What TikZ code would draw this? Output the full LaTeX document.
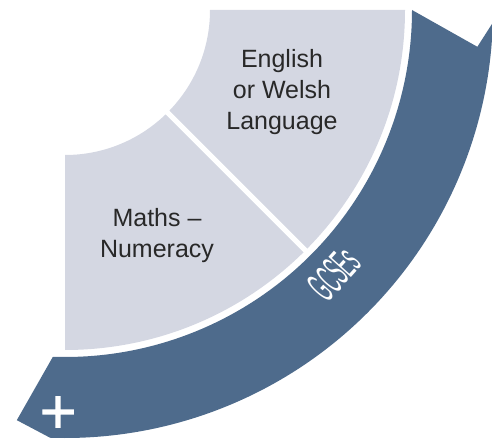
\documentclass[tikz,border=0pt]{standalone}
\usepackage{fontspec}
\setmainfont{Liberation Sans}
\newfontfamily\plusfont[FakeBold=3]{DejaVu Sans}
\definecolor{bande}{RGB}{78,107,140}
\definecolor{matiere}{RGB}{212,215,226}
\definecolor{texte}{RGB}{40,40,40}

\begin{document}
\begin{tikzpicture}[x=1pt,y=1pt,
	matlabel/.style={text=texte,align=center,font=\fontsize{25}{31}\selectfont},
	bandlabel/.style={text=white,inner sep=0pt}]
	\useasboundingbox (-65,10) rectangle (427,-433);
	\clip (-65,10) rectangle (427,-433);
	\fill[matiere] (0:145) -- (0:340) arc[start angle=0,end angle=-90,radius=340] -- (-90:145) arc[start angle=-90,end angle=0,radius=145] -- cycle; % les deux matieres
	\draw[white,line width=5] (-45:140) -- (-45:345); % separation
	\fill[bande] (0:347) -- (-5.1:414) -- (-1.7:428) arc[start angle=-1.7,end angle=-92,radius=428] -- (-96.7:413) -- (-92:347) arc[start angle=-92,end angle=0,radius=347] -- cycle; % la bande
	\node[matlabel] (english) at (217,-82) {English\\or Welsh\\Language};
	\node[matlabel] (maths) at (92,-226) {Maths –\\Numeracy};
	\node[bandlabel,rotate=48,font=\fontsize{44}{44}\selectfont] (gcse) at (-44.4:377) {\scalebox{0.36}[1]{GCSEs}};
	\node[bandlabel,font=\plusfont\fontsize{48}{48}\selectfont] (plus) at (-7,-402) {+};
\end{tikzpicture}
\end{document}
